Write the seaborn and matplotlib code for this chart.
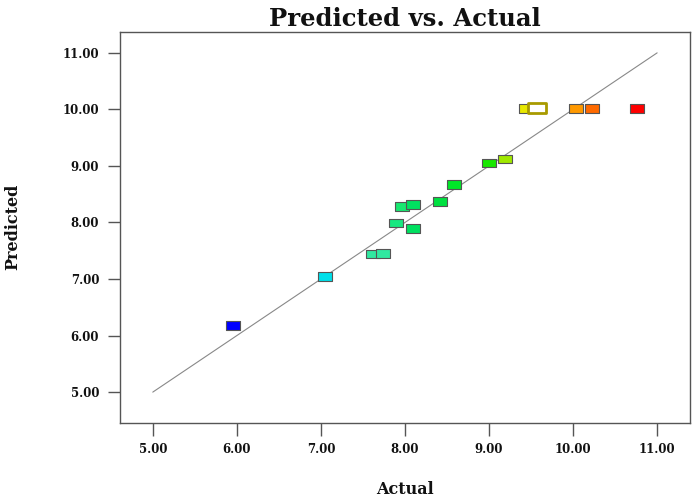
import numpy as np
import pandas as pd
import seaborn as sns
import matplotlib.pyplot as plt
from matplotlib.path import Path

actual = [5.95, 7.05, 7.62, 7.74, 7.89, 8.10, 7.97, 8.10, 8.42, 8.58,
          9.00, 9.19, 9.44, 10.03, 10.23, 10.76]
predicted = [6.18, 7.04, 7.44, 7.45, 7.99, 7.89, 8.28, 8.32, 8.37, 8.67,
             9.05, 9.12, 10.02, 10.02, 10.02, 10.02]
colors = ["#0000ff", "#00e0ea", "#30e8a0", "#30e8a0", "#18e880", "#00e060",
          "#18e870", "#00e060", "#00e040", "#00e828", "#18e800", "#a0e800",
          "#e8e800", "#ff9900", "#ff6a00", "#ff0000"]

# highlighted point (drawn white with olive border)
hl_actual = [9.57]
hl_predicted = [10.02]

ticks = [5, 6, 7, 8, 9, 10, 11]

sns.set_style("white")
plt.rcParams["font.family"] = ["DejaVu Serif"]

rect = Path([(-1, -0.62), (1, -0.62), (1, 0.62), (-1, 0.62), (-1, -0.62)],
            [Path.MOVETO, Path.LINETO, Path.LINETO, Path.LINETO, Path.CLOSEPOLY])

df = pd.DataFrame({"actual": actual, "predicted": predicted,
                   "id": [str(i) for i in range(len(actual))]})

fig = plt.figure(figsize=(6.92, 4.99), dpi=100)
ax = fig.add_axes([0.1734, 0.153, 0.8236, 0.783])

ax.plot([5, 11], [5, 11], color="#888888", linewidth=0.8, zorder=1)

sns.scatterplot(data=df, x="actual", y="predicted", hue="id",
                palette=colors, marker=rect, s=100, edgecolor="#555555",
                linewidth=0.8, legend=False, ax=ax, zorder=3)
sns.scatterplot(x=hl_actual, y=hl_predicted, marker=rect, s=160,
                color="white", edgecolor="#a89a00", linewidth=2,
                legend=False, ax=ax, zorder=4)

ax.set_xlim(4.61, 11.39)
ax.set_ylim(4.46, 11.37)
ax.set_xticks(ticks)
ax.set_yticks(ticks)
ax.set_xticklabels([f"{t:.2f}" for t in ticks])
ax.set_yticklabels([f"{t:.2f}" for t in ticks])
ax.tick_params(axis="both", direction="out", length=9, width=1,
               color="#555555", labelsize=8.5, pad=6,
               left=True, bottom=True)
for lab in ax.get_xticklabels() + ax.get_yticklabels():
    lab.set_fontweight("bold")
    lab.set_color("#111111")

for sp in ax.spines.values():
    sp.set_color("#555555")
    sp.set_linewidth(1)

ax.set_xlabel("Actual", fontsize=11.5, fontweight="bold", color="#111111")
ax.xaxis.set_label_coords(0.5, -0.172)
ax.xaxis.label.set_va("center")
ax.set_ylabel("Predicted", fontsize=11.5, fontweight="bold", color="#111111")
ax.yaxis.set_label_coords(-0.188, 0.5)
ax.yaxis.label.set_va("center")
ax.set_title("Predicted vs. Actual", fontsize=17.5, fontweight="bold",
             color="#111111", pad=4)

plt.savefig("out.png", dpi=100)
